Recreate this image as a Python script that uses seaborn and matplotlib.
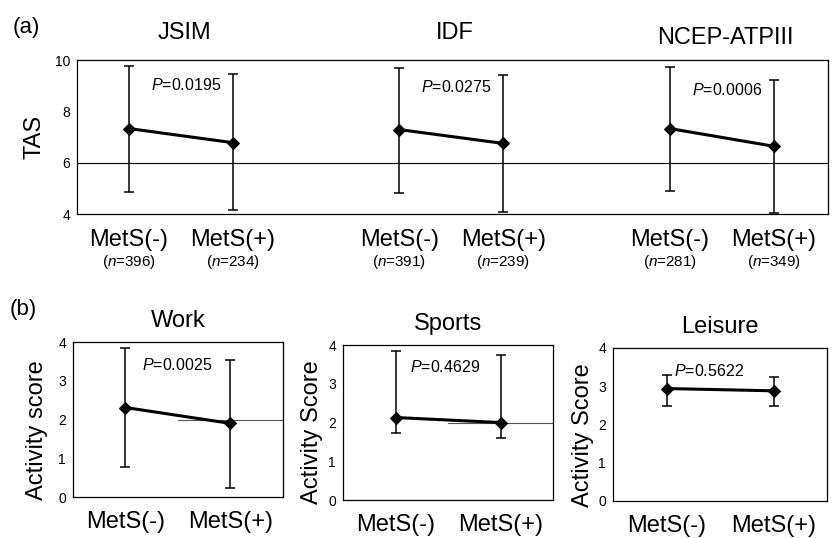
import numpy as np
import pandas as pd
import matplotlib
matplotlib.use("Agg")
import matplotlib.pyplot as plt
import seaborn as sns

# ---- (a) TAS by MetS definition ----
criteria = ["JSIM", "IDF", "NCEP-ATPIII"]
tas_mean_neg = [7.33, 7.29, 7.33]
tas_mean_pos = [6.78, 6.75, 6.64]
tas_hi_neg = [9.76, 9.69, 9.74]
tas_lo_neg = [4.86, 4.82, 4.90]
tas_hi_pos = [9.45, 9.41, 9.22]
tas_lo_pos = [4.16, 4.08, 4.05]
n_neg = [396, 391, 281]
n_pos = [234, 239, 349]
p_tas = ["0.0195", "0.0275", "0.0006"]

# ---- (b) activity scores ----
domains = ["Work", "Sports", "Leisure"]
act_ylabels = ["Activity score", "Activity Score", "Activity Score"]
act_mean_neg = [2.31, 2.13, 2.94]
act_mean_pos = [1.90, 2.00, 2.88]
act_hi_neg = [3.84, 3.84, 3.30]
act_lo_neg = [0.78, 1.74, 2.49]
act_hi_pos = [3.53, 3.74, 3.25]
act_lo_pos = [0.23, 1.61, 2.49]
p_act = ["0.0025", "0.4629", "0.5622"]

groups = ["MetS(-)", "MetS(+)"]

sns.set_theme(style="white")
plt.rcParams["font.family"] = ["Liberation Sans", "DejaVu Sans"]
plt.rcParams["mathtext.fontset"] = "custom"
plt.rcParams["mathtext.it"] = "Liberation Sans:italic"
plt.rcParams["mathtext.rm"] = "Liberation Sans"
for key in ["text.color", "axes.labelcolor", "xtick.color", "ytick.color"]:
    plt.rcParams[key] = "black"

fig = plt.figure(figsize=(8.32, 5.38), dpi=100)
fig.patch.set_facecolor("white")

LINE_KW = dict(color="black", linewidth=2.2, marker="D", markersize=6.5,
               markeredgecolor="black", markerfacecolor="black")
ERR_KW = dict(fmt="none", ecolor="black", elinewidth=1.1, capsize=3.6,
              capthick=1.1, zorder=2)


def frame(ax):
    for s in ax.spines.values():
        s.set_visible(True)
        s.set_color("black")
        s.set_linewidth(0.9)
    ax.set_facecolor("white")
    ax.grid(False)


# ---------------- panel (a) ----------------
axA = fig.add_axes([0.0925, 0.6022, 0.9026, 0.2862])
frame(axA)
starts = [0.5, 3.1, 5.7]
title_y = [1.175, 1.175, 1.14]
p_y = [0.838, 0.825, 0.805]
axA.axhline(6, color="black", linewidth=0.8, zorder=1)
for i, crit in enumerate(criteria):
    xs = [starts[i], starts[i] + 1.0]
    means = [tas_mean_neg[i], tas_mean_pos[i]]
    lo = [tas_lo_neg[i], tas_lo_pos[i]]
    hi = [tas_hi_neg[i], tas_hi_pos[i]]
    df = pd.DataFrame({"x": xs, "TAS": means})
    axA.errorbar(xs, means,
                 yerr=[np.subtract(means, lo), np.subtract(hi, means)], **ERR_KW)
    sns.lineplot(data=df, x="x", y="TAS", ax=axA, zorder=3, **LINE_KW)
    axA.text(starts[i] + 0.53, title_y[i], crit, transform=axA.get_xaxis_transform(),
             ha="center", va="center", fontsize=17)
    axA.text(starts[i] + 0.55, p_y[i], r"$\it{P}$=" + p_tas[i],
             transform=axA.get_xaxis_transform(), ha="center", va="center", fontsize=11.5)
    for x, g, n in zip(xs, groups, [n_neg[i], n_pos[i]]):
        axA.annotate(g, xy=(x, 0), xycoords=("data", "axes fraction"),
                     xytext=(0, -19), textcoords="offset points",
                     ha="center", va="center", fontsize=17)
        axA.annotate(r"($\it{n}$=" + str(n) + ")", xy=(x, 0),
                     xycoords=("data", "axes fraction"),
                     xytext=(0, -34.5), textcoords="offset points",
                     ha="center", va="center", fontsize=11)
axA.set_xlim(0, 7.22)
axA.set_ylim(4, 10)
axA.set_yticks([4, 6, 8, 10])
axA.set_xticks([])
axA.set_xlabel("")
axA.tick_params(axis="y", length=0, pad=5, labelsize=10)
axA.set_ylabel("TAS", fontsize=17)
axA.yaxis.label.set(ha="center", va="center", rotation_mode="default")
axA.yaxis.set_label_coords(-0.056, 0.5)

fig.text(26 / 832, 1 - 27 / 538, "(a)", ha="center", va="center", fontsize=16)
fig.text(23 / 832, 1 - 310 / 538, "(b)", ha="center", va="center", fontsize=16)

# ---------------- panel (b) ----------------
rects = [
    [0.0877, 0.0762, 0.2524, 0.2880],
    [0.4123, 0.0706, 0.2524, 0.2880],
    [0.7368, 0.0688, 0.2572, 0.2844],
]
ylab_x = [-0.171, -0.148, -0.140]
ylab_y = [0.43, 0.44, 0.43]
pb_x = [0.49, 0.47, 0.40]
pb_y = [0.852, 0.858, 0.850]
ref_line = [True, True, False]
for i, dom in enumerate(domains):
    ax = fig.add_axes(rects[i])
    frame(ax)
    xs = [0, 1]
    means = [act_mean_neg[i], act_mean_pos[i]]
    lo = [act_lo_neg[i], act_lo_pos[i]]
    hi = [act_hi_neg[i], act_hi_pos[i]]
    if ref_line[i]:
        ax.axhline(2, xmin=0.5, xmax=1.0, color="#555555", linewidth=0.8, zorder=1)
    ax.errorbar(xs, means,
                yerr=[np.subtract(means, lo), np.subtract(hi, means)], **ERR_KW)
    df = pd.DataFrame({"x": xs, "score": means})
    sns.lineplot(data=df, x="x", y="score", ax=ax, zorder=3, **LINE_KW)
    ax.set_xlim(-0.5, 1.5)
    ax.set_ylim(0, 4)
    ax.set_yticks([0, 1, 2, 3, 4])
    ax.set_xticks(xs)
    ax.set_xticklabels(groups, fontsize=17)
    ax.set_xlabel("")
    ax.tick_params(axis="x", length=0, pad=10)
    ax.tick_params(axis="y", length=0, pad=5, labelsize=10)
    ax.set_ylabel(act_ylabels[i], fontsize=17)
    ax.yaxis.label.set(ha="center", va="center", rotation_mode="default")
    ax.yaxis.set_label_coords(ylab_x[i], ylab_y[i])
    ax.text(0.5, 1.135, dom, transform=ax.transAxes, ha="center", va="center",
            fontsize=17)
    ax.text(pb_x[i], pb_y[i], r"$\it{P}$=" + p_act[i],
            transform=ax.get_xaxis_transform(), ha="center", va="center", fontsize=11.5)

fig.savefig("out.png", dpi=100, facecolor="white")
